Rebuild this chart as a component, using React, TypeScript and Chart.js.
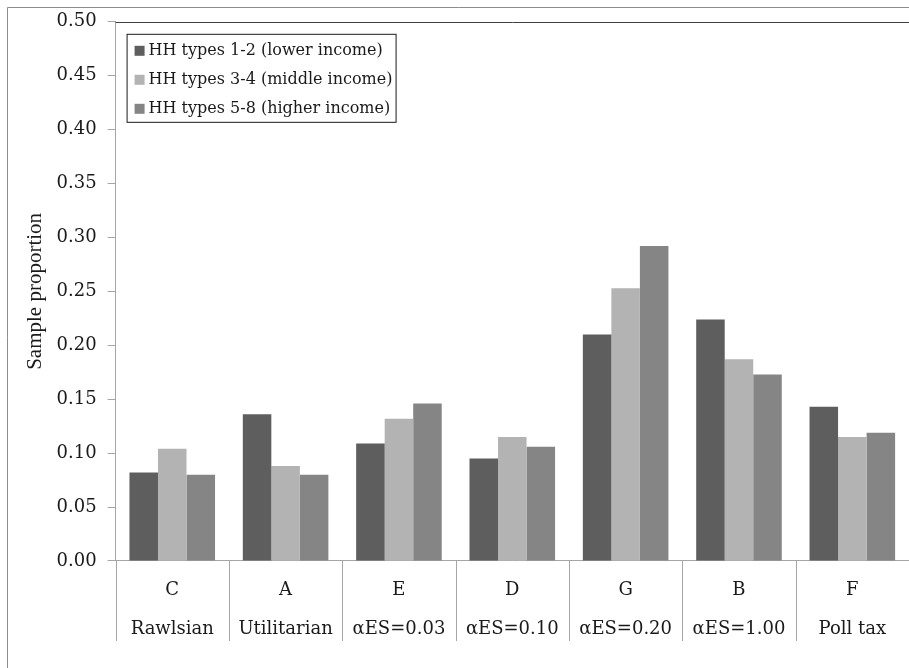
import React, { useEffect, useRef } from "react";
import { Chart, registerables } from "chart.js";

Chart.register(...registerables);

const codes = ["C", "A", "E", "D", "G", "B", "F"];
const names = ["Rawlsian", "Utilitarian", "αES=0.03", "αES=0.10", "αES=0.20", "αES=1.00", "Poll tax"];
const seriesNames = [
  "HH types 1-2 (lower income)",
  "HH types 3-4 (middle income)",
  "HH types 5-8 (higher income)",
];
const lowerIncome = [0.082, 0.136, 0.109, 0.095, 0.210, 0.224, 0.143];
const middleIncome = [0.104, 0.088, 0.132, 0.115, 0.253, 0.187, 0.115];
const higherIncome = [0.080, 0.080, 0.146, 0.106, 0.292, 0.173, 0.119];
const seriesColors = ["#5e5e5e", "#b3b3b3", "#858585"];

const frameAndLegend = {
  id: "frameAndLegend",
  beforeDraw(chart: any) {
    const ctx = chart.ctx;
    ctx.save();
    ctx.fillStyle = "#ffffff";
    ctx.fillRect(0, 0, chart.width, chart.height);
    ctx.strokeStyle = "#8c8c8c";
    ctx.lineWidth = 1;
    ctx.beginPath();
    ctx.moveTo(7.5, chart.height);
    ctx.lineTo(7.5, 7.5);
    ctx.lineTo(chart.width, 7.5);
    ctx.stroke();
    ctx.restore();
  },
  afterDraw(chart: any) {
    const ctx = chart.ctx;
    const area = chart.chartArea;
    const xs = chart.scales.x;
    ctx.save();
    // category dividers of the multi-level axis
    ctx.strokeStyle = "#a6a6a6";
    ctx.lineWidth = 1;
    const n = chart.data.labels.length;
    ctx.beginPath();
    for (let i = 0; i <= n; i++) {
      const x = Math.round(xs.left + (i * (xs.right - xs.left)) / n) + 0.5;
      ctx.moveTo(x, area.bottom);
      ctx.lineTo(x, area.bottom + 80);
    }
    ctx.stroke();
    // top border of plot area
    ctx.strokeStyle = "#404040";
    ctx.beginPath();
    ctx.moveTo(area.left, Math.round(area.top) + 0.5);
    ctx.lineTo(area.right, Math.round(area.top) + 0.5);
    ctx.stroke();
    // legend box
    const bx = area.left + 11;
    const by = area.top + 12;
    const bw = 269;
    const bh = 88;
    ctx.fillStyle = "#ffffff";
    ctx.fillRect(bx, by, bw, bh);
    ctx.strokeStyle = "#1a1a1a";
    ctx.strokeRect(bx + 0.5, by + 0.5, bw, bh);
    ctx.font = "16px 'DejaVu Serif'";
    ctx.textBaseline = "middle";
    ctx.textAlign = "left";
    chart.data.datasets.forEach((ds: any, i: number) => {
      const cy = by + 17 + i * 29;
      ctx.fillStyle = ds.backgroundColor;
      ctx.fillRect(bx + 8, cy - 5, 10, 10);
      ctx.fillStyle = "#1a1a1a";
      ctx.fillText(ds.label, bx + 22, cy);
    });
    ctx.restore();
  },
};

export default function App() {
  const ref = useRef<HTMLCanvasElement>(null);
  useEffect(() => {
    document.body.style.margin = "0";
    const labels = codes.map((c, i) => [c, names[i]]);
    const data = [lowerIncome, middleIncome, higherIncome];
    const chart = new Chart(ref.current as HTMLCanvasElement, {
      type: "bar",
      data: {
        labels,
        datasets: data.map((d, i) => ({
          label: seriesNames[i],
          data: d,
          backgroundColor: seriesColors[i],
          borderWidth: 0,
          barPercentage: 1,
          categoryPercentage: 0.755,
        })),
      },
      options: {
        responsive: false,
        animation: false,
        layout: { padding: { left: 24.5, top: 20, right: 0, bottom: 9 } },
        plugins: {
          legend: { display: false },
          tooltip: { enabled: false },
        },
        scales: {
          x: {
            grid: {
              display: true,
              offset: true,
              drawOnChartArea: false,
              drawTicks: false,
              color: "#a6a6a6",
            },
            border: { display: true, color: "#a6a6a6" },
            ticks: {
              autoSkip: false,
              maxRotation: 0,
              minRotation: 0,
              padding: 10,
              color: "#1a1a1a",
              font: { family: "'DejaVu Serif'", size: 18, lineHeight: 2.1667 },
            },
          },
          y: {
            min: 0,
            max: 0.5,
            grid: {
              display: true,
              drawOnChartArea: false,
              drawTicks: true,
              tickLength: 8,
              color: "#a6a6a6",
            },
            border: { display: true, color: "#a6a6a6" },
            ticks: {
              stepSize: 0.05,
              padding: 11,
              color: "#1a1a1a",
              font: { family: "'DejaVu Serif'", size: 18 },
              callback: (v: any) => Number(v).toFixed(2),
            },
            title: {
              display: true,
              text: "Sample proportion",
              color: "#1a1a1a",
              padding: { top: 0, bottom: 0 },
              font: { family: "'Liberation Serif'", size: 21, lineHeight: 1 },
            },
          },
        },
      },
      plugins: [frameAndLegend],
    });
    return () => chart.destroy();
  }, []);
  return <canvas ref={ref} width={909} height={668} style={{ display: "block" }} />;
}
